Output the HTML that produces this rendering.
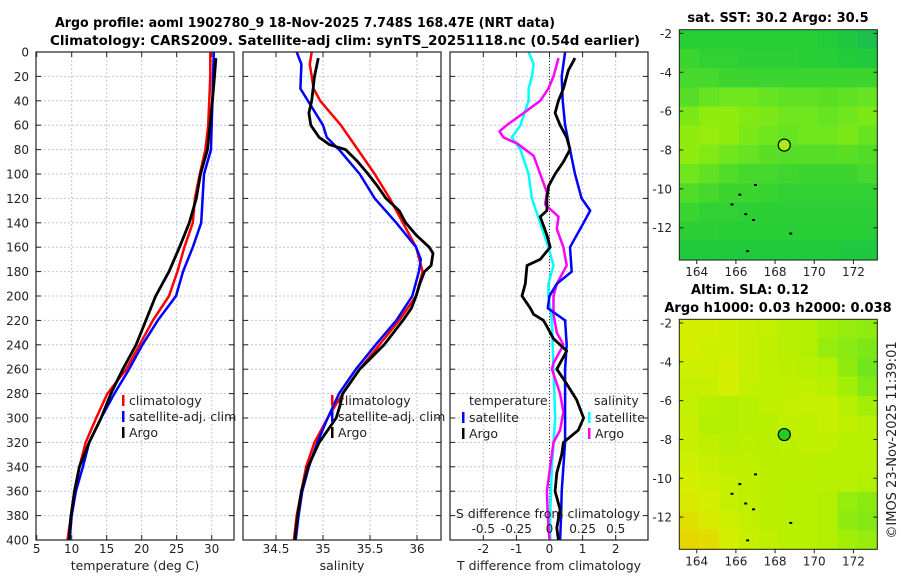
<!DOCTYPE html>
<html><head><meta charset="utf-8">
<style>
html,body{margin:0;padding:0;background:#fff;}
svg{display:block;font-family:"DejaVu Sans","Liberation Sans",sans-serif;}
</style></head>
<body>
<svg id="fig" width="900" height="580" viewBox="0 0 900 580" xmlns="http://www.w3.org/2000/svg">
<rect x="0" y="0" width="900" height="580" fill="#fff"/>
<text x="305" y="27" font-size="13" font-weight="bold" text-anchor="middle" textLength="500" lengthAdjust="spacingAndGlyphs">Argo profile: aoml 1902780_9 18-Nov-2025 7.748S 168.47E (NRT data)</text>
<text x="345" y="45" font-size="13" font-weight="bold" text-anchor="middle" textLength="590" lengthAdjust="spacingAndGlyphs">Climatology: CARS2009. Satellite-adj clim: synTS_20251118.nc (0.54d earlier)</text>
<g id="layer"></g>
</svg>
<script>
// ---------- data ----------
const depthTicks=[0,20,40,60,80,100,120,140,160,180,200,220,240,260,280,300,320,340,360,380,400];
const tTicks=[5,10,15,20,25,30];
const sTicks=[34.5,35,35.5,36];
const dTTicks=[-2,-1,0,1,2];
const dSTicks=[-0.5,-0.25,0,0.25,0.5];
const dSTickLabels=["-0.5","-0.25","0","0.25","0.5"];

const tClimDepth=[0,20,60,80,100,120,140,160,180,200,220,240,260,280,300,320,340,360,380,400];
const tClimVal=[29.8,29.8,29.5,29.1,28.3,27.6,27.3,26.1,25.1,23.9,21.6,19.7,17.8,15.1,13.5,12.0,11.1,10.4,9.9,9.4];
const tSatDepth=[0,40,80,100,120,140,160,180,200,220,240,260,280,300,320,340,360,380,400];
const tSatVal=[30.3,30.1,29.9,28.9,28.7,28.5,27.3,25.9,24.9,22.3,20.1,18.2,16.1,14.2,12.5,11.6,10.6,10.0,9.7];
const tArgoDepth=[5,20,40,80,100,120,140,160,180,200,220,240,260,280,300,320,340,360,380,400];
const tArgoVal=[30.6,30.4,30.1,29.4,28.4,27.8,26.8,25.4,23.9,22.0,20.6,19.2,17.3,15.6,14.2,12.5,11.1,10.4,9.9,9.6];

const sClimDepth=[0,10,30,40,60,80,100,120,140,160,180,200,220,240,260,280,300,320,340,360,380,400];
const sClimVal=[34.88,34.86,34.9,34.97,35.19,35.37,35.55,35.71,35.85,35.99,36.06,35.99,35.81,35.6,35.39,35.21,35.05,34.91,34.82,34.77,34.72,34.69];
const sSatDepth=[0,10,30,60,70,80,100,120,140,160,170,180,200,220,240,260,280,300,320,340,360,380,400];
const sSatVal=[34.72,34.77,34.76,35.0,35.04,35.17,35.39,35.55,35.78,35.99,36.04,36.02,35.95,35.78,35.56,35.35,35.17,35.05,34.94,34.85,34.78,34.74,34.71];
const sArgoDepth=[5,20,40,50,60,70,76,80,90,100,110,120,130,140,150,160,165,175,180,190,200,210,220,240,260,280,290,300,320,340,360,380,400];
const sArgoVal=[34.95,34.91,34.88,34.85,34.87,34.96,35.07,35.24,35.37,35.48,35.58,35.67,35.81,35.88,35.99,36.13,36.17,36.15,36.08,36.03,35.99,35.94,35.85,35.65,35.39,35.21,35.18,35.14,34.96,34.84,34.77,34.73,34.7];

const dTSatDepth=[0,20,40,60,80,100,120,130,140,160,180,190,200,210,220,240,260,280,300,320,340,360,380,400];
const dTSatVal=[0.47,0.37,0.40,0.47,0.62,0.77,0.97,1.23,1.03,0.62,0.67,0.22,0,-0.05,0.47,0.52,0.47,0.47,0.47,0.47,0.42,0.37,0.35,0.32];
const dTArgoDepth=[5,15,20,30,40,50,60,70,80,90,100,110,120,130,135,150,160,170,175,190,200,210,215,220,225,235,245,250,260,270,285,300,310,320,330,345,360,375,390,400];
const dTArgoVal=[0.77,0.57,0.52,0.42,0.27,0.17,0.32,0.52,0.62,0.42,0.17,-0.03,-0.08,-0.08,-0.28,-0.08,0.02,-0.28,-0.68,-0.73,-0.83,-0.58,-0.48,-0.18,-0.08,0.12,0.52,0.42,0.22,0.47,0.82,1.03,0.87,0.42,0.37,0.22,0.17,0.32,0.22,0.27];
const dSSatDepth=[0,10,20,30,40,60,70,80,100,120,140,160,175,190,200,220,260,300,340,380,400];
const dSSatVal=[-0.158,-0.12,-0.133,-0.158,-0.158,-0.22,-0.285,-0.22,-0.158,-0.133,-0.07,-0.008,0.03,-0.008,-0.008,0.018,0.03,0.043,0.018,0.005,0.005];
const dSArgoDepth=[5,20,30,40,50,60,65,70,75,85,100,115,125,135,145,160,175,190,200,215,230,240,255,260,280,295,310,320,340,360,380,400];
const dSArgoVal=[0.068,0.03,-0.008,-0.07,-0.195,-0.323,-0.378,-0.348,-0.245,-0.12,-0.07,-0.02,-0.033,0.068,0.055,0.105,0.13,0.055,0.03,0.03,0.055,0.105,0.03,0.018,0.08,0.105,0.08,0.03,0.005,-0.02,-0.013,0];

const mapLonTicks=[164,166,168,170,172];
const mapLatTicks=[-2,-4,-6,-8,-10,-12];
const sstGrid=[
[.36,.36,.36,.36,.36,.36,.36,.35,.33,.30],
[.40,.38,.38,.37,.37,.37,.36,.36,.35,.34],
[.42,.42,.40,.40,.40,.40,.40,.40,.40,.40],
[.45,.48,.50,.50,.48,.47,.47,.46,.47,.48],
[.52,.55,.55,.53,.52,.50,.50,.48,.50,.52],
[.55,.56,.55,.52,.50,.48,.50,.50,.52,.48],
[.55,.53,.50,.48,.46,.45,.45,.45,.46,.44],
[.50,.47,.44,.42,.42,.41,.40,.40,.40,.42],
[.44,.42,.40,.40,.39,.38,.38,.38,.38,.38],
[.40,.38,.38,.37,.37,.37,.37,.37,.37,.37],
[.37,.37,.36,.36,.36,.36,.36,.36,.36,.36],
[.34,.34,.34,.34,.34,.34,.34,.34,.33,.33]];
const slaGrid=[
[.70,.70,.68,.66,.65,.62,.60,.58,.56,.55],
[.70,.68,.68,.66,.64,.62,.60,.56,.54,.52],
[.68,.68,.70,.66,.64,.63,.62,.60,.55,.50],
[.66,.66,.70,.65,.64,.64,.64,.62,.58,.53],
[.65,.62,.60,.62,.64,.65,.66,.66,.62,.58],
[.66,.60,.60,.62,.62,.64,.64,.66,.64,.62],
[.66,.64,.62,.63,.62,.63,.64,.64,.62,.62],
[.68,.66,.64,.64,.63,.63,.63,.62,.62,.62],
[.70,.68,.66,.64,.63,.62,.62,.62,.62,.60],
[.72,.70,.66,.64,.63,.62,.62,.60,.56,.54],
[.75,.72,.68,.65,.63,.62,.62,.60,.55,.53],
[.78,.76,.70,.66,.64,.62,.62,.60,.58,.56]];
const floatLon=168.47, floatLat=-7.748;

// ---------- helpers ----------
const NS="http://www.w3.org/2000/svg";
const L=document.getElementById('layer');
function mk(tag,attrs,parent){const e=document.createElementNS(NS,tag);for(const k in attrs)e.setAttribute(k,attrs[k]);(parent||L).appendChild(e);return e;}
function txt(s,attrs,parent){const e=mk('text',attrs,parent);e.textContent=s;return e;}
const y=d=>52+d*1.22;
const xT=t=>36.7+(t-5)*7;
const xS=s=>276+(s-34.5)*94;
const xD=d=>549.5+d*33.1;
const xDS=s=>549.5+s*4*33.1;
const P={top:52,bot:540};

function panel(x0,x1,name,vt,xf,labels){
  const g=mk('g',{});
  
  
  mk('rect',{x:x0,y:P.top,width:x1-x0,height:P.bot-P.top,fill:'#fff'},g);
  depthTicks.forEach(d=>{
    if(d>0&&d<400)mk('line',{x1:x0,x2:x1,y1:y(d),y2:y(d),stroke:'#b9c6e6','stroke-width':1,'stroke-dasharray':'2,2'},g);
    mk('line',{x1:x0,x2:x0+5,y1:y(d),y2:y(d),stroke:'#222'},g);
    mk('line',{x1:x1-5,x2:x1,y1:y(d),y2:y(d),stroke:'#222'},g);
  });
  vt.forEach((v,i)=>{
    const xx=xf(v);
    if(xx>x0+1&&xx<x1-1)mk('line',{x1:xx,x2:xx,y1:P.top,y2:P.bot,stroke:'#b9c6e6','stroke-dasharray':'2,2'},g);
    mk('line',{x1:xx,x2:xx,y1:P.bot-5,y2:P.bot,stroke:'#222'},g);
    mk('line',{x1:xx,x2:xx,y1:P.top,y2:P.top+5,stroke:'#222'},g);
    const t=txt(labels?labels[i]:String(v),{x:xx,y:553,'font-size':12,'text-anchor':'middle',fill:'#222'},g);
    
    
  });
  return g;
}
function frame(x0,x1,g){mk('rect',{x:x0,y:P.top,width:x1-x0,height:P.bot-P.top,fill:'none',stroke:'#222','stroke-width':1.2},g);}
function line(xs,ds,xf,color,w,name,g){
  const pts=xs.map((v,i)=>xf(v).toFixed(1)+','+y(ds[i]).toFixed(1)).join(' ');
  const p=mk('polyline',{points:pts,fill:'none',stroke:color,'stroke-width':w,'stroke-linejoin':'round'},g);
  
  
}
function legend(x,yy,color,label,g,name){
  mk('rect',{x:x,y:yy-9,width:2.5,height:11,fill:color},g);
  const t=txt(label,{x:x+7,y:yy+1,'font-size':12.5,fill:'#222'},g);
  
  
}

// ---------- panel 1 ----------
const g1=panel(36,234,'temperature-panel',tTicks,xT);
depthTicks.forEach(d=>{const t=txt(String(d),{x:29,y:y(d)+4.5,'font-size':12,'text-anchor':'end',fill:'#222'});

});
line(tClimVal,tClimDepth,xT,'#f00',2.5,'temp-climatology-line',g1);
line(tSatVal,tSatDepth,xT,'#00f',2.5,'temp-satellite-line',g1);
line(tArgoVal,tArgoDepth,xT,'#000',2.8,'temp-argo-line',g1);
legend(122,404,'#f00','climatology',g1,'legend-climatology');
legend(122,420,'#00f','satellite-adj. clim',g1,'legend-satellite');
legend(122,436,'#000','Argo',g1,'legend-argo');
frame(36,234,g1);
txt('temperature (deg C)',{x:135,y:570,'font-size':12.5,'text-anchor':'middle',fill:'#222',});

// ---------- panel 2 ----------
const g2=panel(243,441,'salinity-panel',sTicks,xS);
line(sClimVal,sClimDepth,xS,'#f00',2.5,'sal-climatology-line',g2);
line(sSatVal,sSatDepth,xS,'#00f',2.5,'sal-satellite-line',g2);
line(sArgoVal,sArgoDepth,xS,'#000',2.8,'sal-argo-line',g2);
legend(331,404,'#f00','climatology',g2,'legend-climatology-2');
legend(331,420,'#00f','satellite-adj. clim',g2,'legend-satellite-2');
legend(331,436,'#000','Argo',g2,'legend-argo-2');
frame(243,441,g2);
txt('salinity',{x:342,y:570,'font-size':12.5,'text-anchor':'middle',fill:'#222',});

// ---------- panel 3 ----------
const g3=panel(450,648,'difference-panel',dTTicks,xD);
mk('line',{x1:xD(0),x2:xD(0),y1:P.top,y2:P.bot,stroke:'#333','stroke-dasharray':'1,2'},g3);
line(dSSatVal,dSSatDepth,xDS,'#0ff',2.5,'sdiff-satellite-line',g3);
line(dSArgoVal,dSArgoDepth,xDS,'#f0f',2.5,'sdiff-argo-line',g3);
line(dTSatVal,dTSatDepth,xD,'#00f',2.5,'tdiff-satellite-line',g3);
line(dTArgoVal,dTArgoDepth,xD,'#000',2.8,'tdiff-argo-line',g3);
txt('temperature',{x:469,y:405,'font-size':12.5,fill:'#222',},g3);
legend(462,421,'#00f','satellite',g3,'legend-tdiff-satellite');
legend(462,437,'#000','Argo',g3,'legend-tdiff-argo');
txt('salinity',{x:594,y:405,'font-size':12.5,fill:'#222',},g3);
legend(588,421,'#0ff','satellite',g3,'legend-sdiff-satellite');
legend(588,437,'#f0f','Argo',g3,'legend-sdiff-argo');
txt('S difference from climatology',{x:548,y:518,'font-size':12.5,'text-anchor':'middle',fill:'#222',},g3);
dSTicks.forEach((v,i)=>{const t=txt(dSTickLabels[i],{x:xDS(v),y:533,'font-size':12,'text-anchor':'middle',fill:'#222'},g3);

});
frame(450,648,g3);
txt('T difference from climatology',{x:549,y:570,'font-size':12.5,'text-anchor':'middle',fill:'#222',});

// ---------- maps ----------
const MX0=679.3,MX1=877.3,LON0=163.11,LON1=173.22,LAT0=-1.81,LAT1=-13.66;
const lonX=lo=>MX0+(lo-LON0)/(LON1-LON0)*(MX1-MX0);
function cmap(v){
  const st=[[0.2,[16,170,120]],[0.35,[34,204,56]],[0.5,[112,230,30]],[0.6,[176,240,0]],[0.7,[212,240,0]],[0.8,[236,208,0]]];
  if(v<=st[0][0])return 'rgb('+st[0][1]+')';
  for(let i=1;i<st.length;i++){if(v<=st[i][0]){const a=st[i-1],b=st[i],f=(v-a[0])/(b[0]-a[0]);
    return 'rgb('+a[1].map((c,j)=>Math.round(c+(b[1][j]-c)*f)).join(',')+')';}}
  return 'rgb('+st[st.length-1][1]+')';
}
function map(Y0,Y1,grid,name,dotColor,titleLines){
  const latY=la=>Y0+(la-LAT0)/(LAT1-LAT0)*(Y1-Y0);
  const g=mk('g',{});
  
  
  const nr=grid.length,nc=grid[0].length;
  const dLon=(LON1-LON0)/nc,dLat=(LAT1-LAT0)/nr;
  grid.forEach((row,r)=>row.forEach((v,c)=>{
    const x0=lonX(LON0+c*dLon),x1=lonX(LON0+(c+1)*dLon),y0=latY(LAT0+r*dLat),y1=latY(LAT0+(r+1)*dLat);
    const cell=mk('rect',{x:x0.toFixed(2),y:y0.toFixed(2),width:(x1-x0+0.6).toFixed(2),height:(y1-y0+0.6).toFixed(2),fill:cmap(v)},g);
    
    
  }));
  [[165.8,-10.8],[166.9,-11.6],[166.5,-11.3],[166.2,-10.3],[167.0,-9.8],[166.6,-13.2],[168.8,-12.3]].forEach(p=>{
    mk('rect',{x:lonX(p[0])-1.5,y:latY(p[1])-1,width:3,height:2,fill:'#000'},g);
  });
  mk('rect',{x:MX0,y:Y0,width:MX1-MX0,height:Y1-Y0,fill:'none',stroke:'#222'},g);
  mapLatTicks.forEach(la=>{
    const yy=latY(la);
    mk('line',{x1:MX0,x2:MX0+4,y1:yy,y2:yy,stroke:'#222'},g);
    mk('line',{x1:MX1-4,x2:MX1,y1:yy,y2:yy,stroke:'#222'},g);
    const t=txt(String(la),{x:672,y:yy+4.5,'font-size':12,'text-anchor':'end',fill:'#222'},g);
    
    
  });
  mapLonTicks.forEach(lo=>{
    const xx=lonX(lo);
    mk('line',{x1:xx,x2:xx,y1:Y1,y2:Y1+4,stroke:'#222'},g);
    const t=txt(String(lo),{x:xx,y:Y1+16,'font-size':12,'text-anchor':'middle',fill:'#222'},g);
    
    
  });
  const dot=mk('circle',{cx:lonX(floatLon),cy:latY(floatLat),r:6,fill:dotColor,stroke:'#000','stroke-width':1.2},g);
  
  
  titleLines.forEach((s,i)=>{const t=txt(s[0],{x:s[1],y:s[2],'font-size':13,'font-weight':'bold','text-anchor':'middle',fill:'#000'},g);
    
    });
}
map(29.7,260,sstGrid,'sst-map','#a6ee10',[['sat. SST: 30.2 Argo: 30.5',778,22]]);
map(319.3,549.3,slaGrid,'sla-map','#22cc22',[['Altim. SLA: 0.12',750,294],['Argo h1000: 0.03 h2000: 0.038',778,312]]);
txt('©IMOS 23-Nov-2025 11:39:01',{x:0,y:0,'font-size':13,'text-anchor':'middle',fill:'#222',transform:'translate(896,440) rotate(-90)',});
</script>
</body></html>
